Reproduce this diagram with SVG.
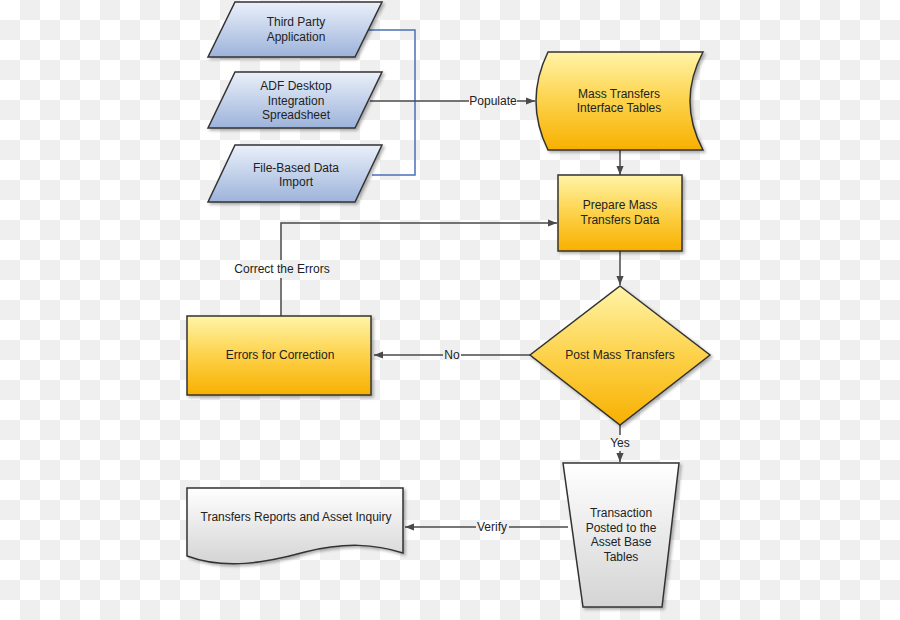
<svg xmlns="http://www.w3.org/2000/svg" width="900" height="620" viewBox="0 0 900 620">
<defs>
<pattern id="chk" width="40" height="40" patternUnits="userSpaceOnUse">
<rect width="40" height="40" fill="#ffffff"/>
<rect x="20" y="0" width="20" height="20" fill="#efefef"/>
<rect x="0" y="20" width="20" height="20" fill="#efefef"/>
</pattern>
<linearGradient id="gBlue" x1="0" y1="0" x2="0" y2="1">
<stop offset="0" stop-color="#eaf0fa"/>
<stop offset="1" stop-color="#9db3da"/>
</linearGradient>
<linearGradient id="gYel" x1="0" y1="0" x2="0" y2="1">
<stop offset="0" stop-color="#fff4a8"/>
<stop offset="0.5" stop-color="#fdd24a"/>
<stop offset="1" stop-color="#f8b000"/>
</linearGradient>
<linearGradient id="gGray" x1="0" y1="0" x2="0" y2="1">
<stop offset="0" stop-color="#ffffff"/>
<stop offset="1" stop-color="#d4d4d4"/>
</linearGradient>
<filter id="sh" x="-10%" y="-10%" width="130%" height="130%">
<feDropShadow dx="2" dy="2" stdDeviation="1.5" flood-color="#000" flood-opacity="0.3"/>
</filter>
<marker id="arr" viewBox="0 0 10 10" refX="10" refY="5" markerWidth="9" markerHeight="9" markerUnits="userSpaceOnUse" orient="auto">
<path d="M0,1 L10,5 L0,9 Z" fill="#4a4a4a"/>
</marker>
</defs>
<style>
.shape{stroke:#333;stroke-width:1.5;filter:url(#sh)}
.blue{fill:url(#gBlue)}
.yel{fill:url(#gYel)}
.gray{fill:url(#gGray)}
.t{font-family:"Liberation Sans",Arial,sans-serif;font-size:12px;fill:#222;text-anchor:middle;dominant-baseline:central}
.ln{fill:none;stroke:#4a4a4a;stroke-width:1.5}
.bl{fill:none;stroke:#4a72b8;stroke-width:1.5}
</style>
<rect width="900" height="620" fill="url(#chk)"/>

<g id="connectors">
<polyline class="bl" points="368,30 415,30 415,175 372,175"/>
<line class="ln" x1="370" y1="101" x2="469" y2="101"/>
<line class="ln" x1="517" y1="101" x2="535" y2="101" marker-end="url(#arr)"/>
<line class="ln" x1="620" y1="150" x2="620" y2="175" marker-end="url(#arr)"/>
<line class="ln" x1="620" y1="251" x2="620" y2="285" marker-end="url(#arr)"/>
<line class="ln" x1="530" y1="355" x2="461" y2="355"/>
<line class="ln" x1="443" y1="355" x2="374" y2="355" marker-end="url(#arr)"/>
<polyline class="ln" points="281,316 281,278"/>
<polyline class="ln" points="281,260 281,223 557,223" marker-end="url(#arr)"/>
<line class="ln" x1="620" y1="425" x2="620" y2="435"/>
<line class="ln" x1="620" y1="451" x2="620" y2="462" marker-end="url(#arr)"/>
<line class="ln" x1="568" y1="527" x2="509" y2="527"/>
<line class="ln" x1="476" y1="527" x2="405" y2="527" marker-end="url(#arr)"/>
<text class="t" x="493" y="101">Populate</text>
<text class="t" x="452" y="355">No</text>
<text class="t" x="282" y="269">Correct the Errors</text>
<text class="t" x="620" y="443">Yes</text>
<text class="t" x="492" y="527">Verify</text>
</g>

<g id="third-party">
<polygon class="shape blue" points="235,2 382,2 355,57 208,57"/>
<text class="t" x="296" y="22">Third Party</text>
<text class="t" x="296" y="37">Application</text>
</g>
<g id="adf-desktop">
<polygon class="shape blue" points="235,72 382,72 355,128 208,128"/>
<text class="t" x="296" y="86">ADF Desktop</text>
<text class="t" x="296" y="101">Integration</text>
<text class="t" x="296" y="115">Spreadsheet</text>
</g>
<g id="file-based">
<polygon class="shape blue" points="235,145 382,145 355,202 208,202"/>
<text class="t" x="296" y="168">File-Based Data</text>
<text class="t" x="296" y="182">Import</text>
</g>
<g id="interface-tables">
<path class="shape yel" d="M548,52 L703,52 Q677,101 703,150 L548,150 Q524,101 548,52 Z"/>
<text class="t" x="619" y="94">Mass Transfers</text>
<text class="t" x="619" y="108">Interface Tables</text>
</g>
<g id="prepare">
<rect class="shape yel" x="558" y="175" width="124" height="76"/>
<text class="t" x="620" y="205">Prepare Mass</text>
<text class="t" x="620" y="220">Transfers Data</text>
</g>
<g id="post">
<polygon class="shape yel" points="620,286 710,355 620,425 530,355"/>
<text class="t" x="620" y="355">Post Mass Transfers</text>
</g>
<g id="errors">
<rect class="shape yel" x="187" y="316" width="184" height="79"/>
<text class="t" x="280" y="355">Errors for Correction</text>
</g>
<g id="transaction">
<polygon class="shape gray" points="563,463 679,463 662,607 583,607"/>
<text class="t" x="621" y="513">Transaction</text>
<text class="t" x="621" y="528">Posted to the</text>
<text class="t" x="621" y="542">Asset Base</text>
<text class="t" x="621" y="557">Tables</text>
</g>
<g id="reports">
<path class="shape gray" d="M187,488 L403,488 L403,553 C375,544 345,542 305,552 C265,563 225,570 187,556 Z"/>
<text class="t" x="296" y="517">Transfers Reports and Asset Inquiry</text>
</g>
</svg>
